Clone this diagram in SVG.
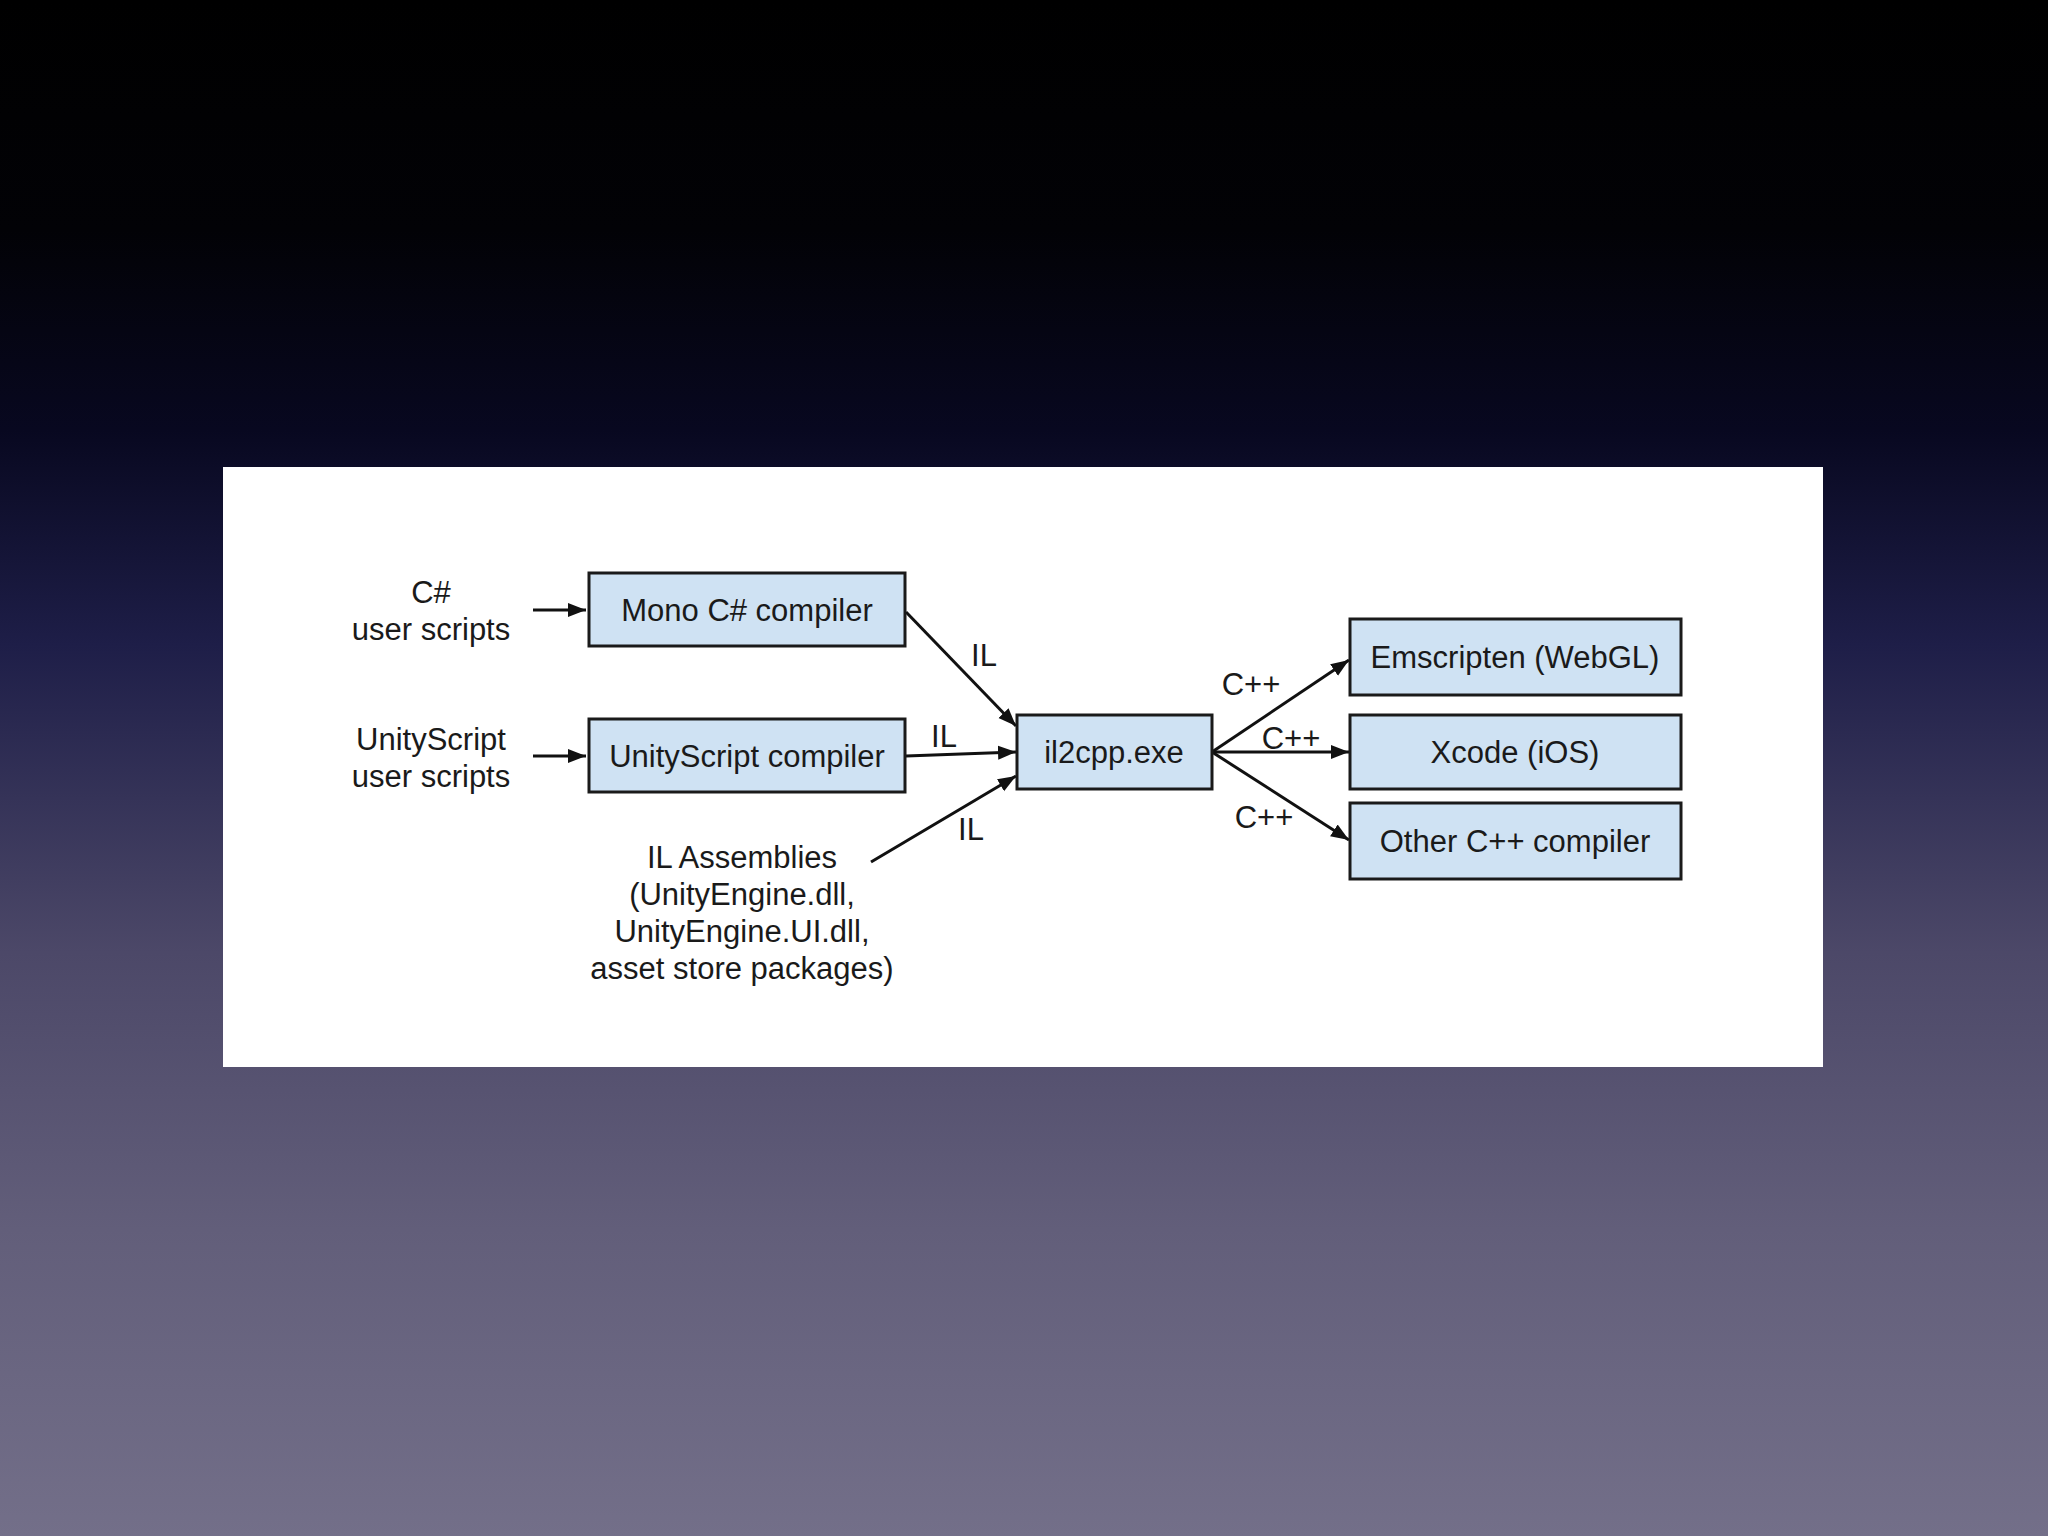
<svg xmlns="http://www.w3.org/2000/svg" width="2048" height="1536" viewBox="0 0 2048 1536">
<defs>
<linearGradient id="bg" x1="0" y1="0" x2="0" y2="1">
<stop offset="0" stop-color="#000000"/>
<stop offset="0.15" stop-color="#020206"/>
<stop offset="0.28" stop-color="#080820"/>
<stop offset="0.42" stop-color="#1e1e48"/>
<stop offset="0.62" stop-color="#4c4868"/>
<stop offset="0.8" stop-color="#625e7a"/>
<stop offset="1" stop-color="#736f89"/>
</linearGradient>
<marker id="ah" markerUnits="userSpaceOnUse" markerWidth="20" markerHeight="16" refX="18" refY="8" orient="auto">
<path d="M0,1 L18,8 L0,15 Z" fill="#111"/>
</marker>
<style>
.box{fill:#cfe2f3;stroke:#1a1a1a;stroke-width:3}
.t{font-family:"Liberation Sans",Arial,sans-serif;font-size:31px;fill:#1a1a1a;text-anchor:middle}
.c{stroke:#111;stroke-width:3;fill:none;marker-end:url(#ah)}
</style>
</defs>
<rect width="2048" height="1536" fill="url(#bg)"/>
<rect x="223" y="467" width="1600" height="600" fill="#ffffff"/>
<g id="connectors">
<line class="c" x1="533" y1="610" x2="586" y2="610"/>
<line class="c" x1="533" y1="756" x2="586" y2="756"/>
<line class="c" x1="906" y1="612" x2="1016" y2="726"/>
<line class="c" x1="906" y1="756" x2="1016" y2="752"/>
<line class="c" x1="871" y1="862" x2="1016" y2="776"/>
<line class="c" x1="1212" y1="752" x2="1349" y2="660"/>
<line class="c" x1="1212" y1="752" x2="1349" y2="752"/>
<line class="c" x1="1212" y1="752" x2="1349" y2="840"/>
<text class="t" x="984" y="666">IL</text>
<text class="t" x="944" y="747">IL</text>
<text class="t" x="971" y="840">IL</text>
<text class="t" x="1251" y="695">C++</text>
<text class="t" x="1291" y="749">C++</text>
<text class="t" x="1264" y="828">C++</text>
</g>
<g id="csharp-src">
<text class="t" x="431" y="603">C#</text>
<text class="t" x="431" y="640">user scripts</text>
</g>
<g id="us-src">
<text class="t" x="431" y="750">UnityScript</text>
<text class="t" x="431" y="787">user scripts</text>
</g>
<g id="il-assemblies">
<text class="t" x="742" y="868">IL Assemblies</text>
<text class="t" x="742" y="905">(UnityEngine.dll,</text>
<text class="t" x="742" y="942">UnityEngine.UI.dll,</text>
<text class="t" x="742" y="979">asset store packages)</text>
</g>
<g id="mono">
<rect class="box" x="589" y="573" width="316" height="73"/>
<text class="t" x="747" y="621">Mono C# compiler</text>
</g>
<g id="usc">
<rect class="box" x="589" y="719" width="316" height="73"/>
<text class="t" x="747" y="767">UnityScript compiler</text>
</g>
<g id="il2cpp">
<rect class="box" x="1017" y="715" width="195" height="74"/>
<text class="t" x="1114" y="763">il2cpp.exe</text>
</g>
<g id="emscripten">
<rect class="box" x="1350" y="619" width="331" height="76"/>
<text class="t" x="1515" y="668">Emscripten (WebGL)</text>
</g>
<g id="xcode">
<rect class="box" x="1350" y="715" width="331" height="74"/>
<text class="t" x="1515" y="763">Xcode (iOS)</text>
</g>
<g id="other">
<rect class="box" x="1350" y="803" width="331" height="76"/>
<text class="t" x="1515" y="852">Other C++ compiler</text>
</g>
</svg>
